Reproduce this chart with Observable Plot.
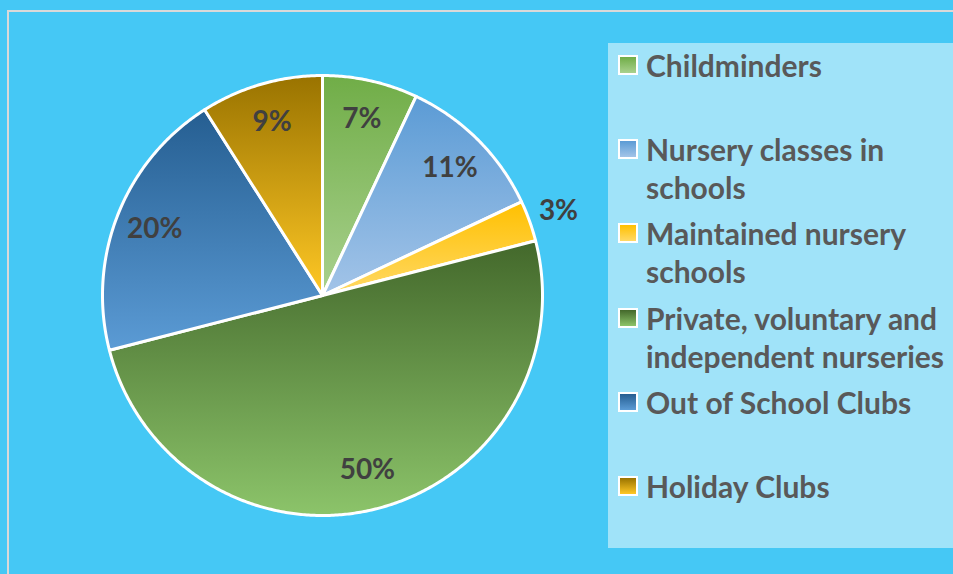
<!DOCTYPE html>
<html>
<head>
<meta charset="utf-8">
<script src="https://cdn.jsdelivr.net/npm/d3@7"></script>
<script src="https://cdn.jsdelivr.net/npm/@observablehq/plot@0.6"></script>
<style>
  html, body { margin: 0; padding: 0; overflow: hidden; }
  #wrap { position: relative; width: 953px; height: 574px; background: #45C8F5; overflow: hidden; font-family: Lato, "Open Sans", sans-serif; }
  #frame { position: absolute; left: 7px; top: 10px; width: 980px; height: 600px; border: 2px solid #D9D9D9; box-sizing: border-box; }
  #chart { position: absolute; left: 0; top: 0; }
  #legend { position: absolute; left: 608px; top: 43px; width: 360px; height: 505px; background: #A0E3F9; }
  .item { position: absolute; left: 38px; color: #595959; font-weight: bold; font-size: 30px; line-height: 38px; white-space: nowrap; }
  .sw { position: absolute; left: -28px; top: 9px; width: 16px; height: 16px; border: 2px solid #fff; }
</style>
</head>
<body>
<div id="wrap">
  <div id="frame"></div>
  <div id="chart"></div>
  <div id="legend"></div>
</div>
<script>
const categories = ["Childminders", "Nursery classes in schools", "Maintained nursery schools", "Private, voluntary and independent nurseries", "Out of School Clubs", "Holiday Clubs"];
const shares = [7, 11, 3, 50, 20, 9];
const legendLines = [["Childminders"], ["Nursery classes in", "schools"], ["Maintained nursery", "schools"], ["Private, voluntary and", "independent nurseries"], ["Out of School Clubs"], ["Holiday Clubs"]];
const topColors = ["#70AD47", "#5B9BD5", "#FFC000", "#43682B", "#255E91", "#997300"];
const bottomColors = ["#A9D18E", "#A3C4E8", "#FFD966", "#8CC46A", "#5B9BD5", "#FFC825"];

const total = d3.sum(shares);
const slices = [];
let acc = 0;
shares.forEach((v, i) => {
  const a0 = acc / total * 2 * Math.PI;
  acc += v;
  const a1 = acc / total * 2 * Math.PI;
  slices.push({i, name: categories[i], value: v, a0, a1, mid: (a0 + a1) / 2});
});

const pts = [];
for (const s of slices) {
  pts.push({name: s.name, grad: `url(#g${s.i})`, x: 0, y: 0});
  const n = Math.max(2, Math.ceil((s.a1 - s.a0) / (Math.PI / 360)));
  for (let k = 0; k <= n; k++) {
    const a = s.a0 + (s.a1 - s.a0) * k / n;
    pts.push({name: s.name, grad: `url(#g${s.i})`, x: Math.sin(a), y: Math.cos(a)});
  }
  pts.push({name: s.name, grad: `url(#g${s.i})`, x: 0, y: 0});
}

const labels = slices.map(s => {
  const r = s.value < 5 ? 1.14 : 0.82;
  return {text: s.value + "%", x: Math.sin(s.mid) * r, y: Math.cos(s.mid) * r};
});

const svg = Plot.plot({
  width: 953,
  height: 574,
  marginLeft: 102,
  marginRight: 411,
  marginTop: 75,
  marginBottom: 59,
  style: {background: "transparent", overflow: "visible"},
  x: {domain: [-1, 1], axis: null},
  y: {domain: [-1, 1], axis: null},
  color: {type: "identity"},
  marks: [
    Plot.line(pts, {x: "x", y: "y", z: "name", fill: "grad", stroke: "white", strokeWidth: 3, strokeLinejoin: "round"}),
    Plot.text(labels, {x: "x", y: "y", text: "text", fill: "#404040", fontSize: 28, fontWeight: "bold", fontFamily: "Lato, sans-serif"})
  ]
});

const defs = d3.select(svg).insert("defs", ":first-child");
topColors.forEach((c, i) => {
  const g = defs.append("linearGradient").attr("id", "g" + i).attr("x1", 0).attr("y1", 0).attr("x2", 0).attr("y2", 1);
  g.append("stop").attr("offset", "0%").attr("stop-color", c);
  g.append("stop").attr("offset", "100%").attr("stop-color", bottomColors[i]);
});
document.getElementById("chart").appendChild(svg);

const legend = d3.select("#legend");
legendLines.forEach((lines, i) => {
  const it = legend.append("div").attr("class", "item").style("top", (66 + i * 84.2 - 43 - 20) + "px");
  it.append("div").attr("class", "sw").style("background", `linear-gradient(${topColors[i]}, ${bottomColors[i]})`);
  it.html(it.html() + lines.join("<br>"));
});
</script>
</body>
</html>
